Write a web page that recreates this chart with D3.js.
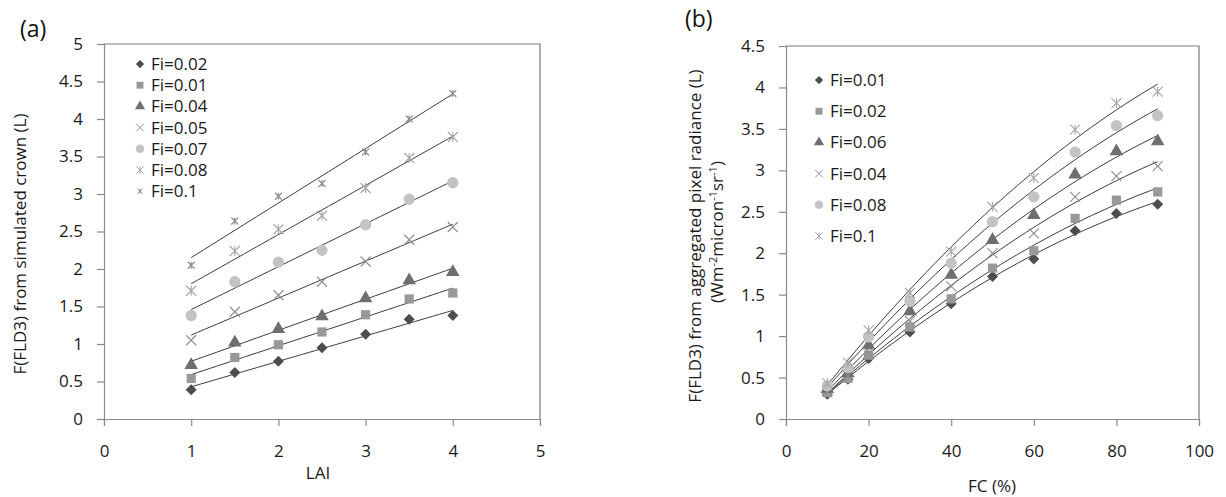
<!DOCTYPE html>
<html>
<head>
<meta charset="utf-8">
<script src="https://cdn.jsdelivr.net/npm/d3@7"></script>
<style>
  body { margin: 0; background: #fff; }
  svg { font-family: "Open Sans", sans-serif; }
</style>
</head>
<body>
<svg id="chart" width="1226" height="497"></svg>
<script>
// panel (a): F(FLD3) from simulated crown vs LAI
const laiValues = [1, 1.5, 2, 2.5, 3, 3.5, 4];
const seriesA = [
  { name: "Fi=0.02", marker: "diamond",  values: [0.39, 0.62, 0.77, 0.95, 1.13, 1.33, 1.38] },
  { name: "Fi=0.01", marker: "square",   values: [0.54, 0.82, 0.99, 1.16, 1.39, 1.60, 1.68] },
  { name: "Fi=0.04", marker: "triangle", values: [0.72, 1.02, 1.20, 1.37, 1.61, 1.85, 1.96] },
  { name: "Fi=0.05", marker: "cross",    values: [1.05, 1.43, 1.65, 1.83, 2.10, 2.39, 2.56] },
  { name: "Fi=0.07", marker: "circle",   values: [1.38, 1.83, 2.09, 2.25, 2.59, 2.93, 3.15] },
  { name: "Fi=0.08", marker: "star",     values: [1.71, 2.24, 2.53, 2.71, 3.08, 3.48, 3.76] },
  { name: "Fi=0.1",  marker: "starSmall", values: [2.05, 2.64, 2.97, 3.14, 3.56, 4.00, 4.34] }
];
const xTicksA = [0, 1, 2, 3, 4, 5];
const yTicksA = [0, 0.5, 1, 1.5, 2, 2.5, 3, 3.5, 4, 4.5, 5];

// panel (b): F(FLD3) from aggregated pixel radiance vs FC
const fcValues = [10, 15, 20, 30, 40, 50, 60, 70, 80, 90];
const seriesB = [
  { name: "Fi=0.01", marker: "diamond",  values: [0.30, 0.48, 0.73, 1.05, 1.39, 1.72, 1.93, 2.27, 2.48, 2.59] },
  { name: "Fi=0.02", marker: "square",   values: [0.32, 0.49, 0.77, 1.11, 1.45, 1.82, 2.03, 2.42, 2.64, 2.74] },
  { name: "Fi=0.06", marker: "triangle", values: [0.36, 0.55, 0.89, 1.30, 1.74, 2.16, 2.46, 2.95, 3.23, 3.35] },
  { name: "Fi=0.04", marker: "cross",    values: [0.33, 0.52, 0.80, 1.18, 1.60, 2.00, 2.24, 2.68, 2.93, 3.05] },
  { name: "Fi=0.08", marker: "circle",   values: [0.40, 0.62, 0.99, 1.42, 1.88, 2.38, 2.68, 3.22, 3.54, 3.66] },
  { name: "Fi=0.1",  marker: "star",     values: [0.43, 0.68, 1.07, 1.52, 2.02, 2.56, 2.91, 3.49, 3.81, 3.95] }
];
const xTicksB = [0, 20, 40, 60, 80, 100];
const yTicksB = [0, 0.5, 1, 1.5, 2, 2.5, 3, 3.5, 4, 4.5];

const markerStyle = {
  diamond:   { fill: "#4d4d4d", stroke: "none" },
  square:    { fill: "#999999", stroke: "none" },
  triangle:  { fill: "#6f6f6f", stroke: "none" },
  cross:     { fill: "none", stroke: "#8c8c8c" },
  circle:    { fill: "#c3c3c3", stroke: "none" },
  star:      { fill: "none", stroke: "#a6a6a6" },
  starSmall: { fill: "none", stroke: "#8c8c8c" }
};

function markerPath(type, k) {
  const s = k || 1;
  if (type === "diamond") {
    const r = 5.5 * s;
    return `M0,${-r}L${r},0L0,${r}L${-r},0Z`;
  }
  if (type === "square") return d3.symbol(d3.symbolSquare, 85 * s * s)();
  if (type === "triangle") return d3.symbol(d3.symbolTriangle, 80 * s * s)();
  if (type === "circle") return d3.symbol(d3.symbolCircle, 100 * s * s)();
  const r = (type === "starSmall" ? 3.5 : 5) * s;
  let p = `M${-r},${-r}L${r},${r}M${-r},${r}L${r},${-r}`;
  if (type !== "cross") p += `M0,${-r}L0,${r}`;
  return p;
}

function linearFit(xs, ys) {
  const mx = d3.mean(xs), my = d3.mean(ys);
  const num = d3.sum(xs, (x, i) => (x - mx) * (ys[i] - my));
  const den = d3.sum(xs, x => (x - mx) ** 2);
  const b = num / den;
  return x => my + b * (x - mx);
}

function quadFit(xs, ys) {
  // least squares y = a + b x + c x^2 via normal equations
  const S = k => d3.sum(xs, x => x ** k);
  const T = k => d3.sum(xs, (x, i) => ys[i] * x ** k);
  const m = [[S(0), S(1), S(2), T(0)], [S(1), S(2), S(3), T(1)], [S(2), S(3), S(4), T(2)]];
  for (let i = 0; i < 3; i++) {
    for (let j = i + 1; j < 3; j++) {
      const f = m[j][i] / m[i][i];
      for (let k = i; k < 4; k++) m[j][k] -= f * m[i][k];
    }
  }
  const c = [0, 0, 0];
  for (let i = 2; i >= 0; i--) {
    let v = m[i][3];
    for (let k = i + 1; k < 3; k++) v -= m[i][k] * c[k];
    c[i] = v / m[i][i];
  }
  return x => c[0] + c[1] * x + c[2] * x * x;
}

const svg = d3.select("#chart");

function panel(opt) {
  const { left, right, top, bottom } = opt;
  const x = d3.scaleLinear().domain(opt.xDomain).range([left, right]);
  const y = d3.scaleLinear().domain(opt.yDomain).range([bottom, top]);
  const g = svg.append("g");

  // plot frame (top/right)
  g.append("path")
    .attr("d", `M${left},${top}H${right}V${bottom}`)
    .attr("fill", "none").attr("stroke", "#7a7a7a").attr("stroke-width", 1.2);

  const xAxis = g.append("g")
    .attr("transform", `translate(0,${bottom})`)
    .call(d3.axisBottom(x).tickValues(opt.xTicks).tickSize(7).tickPadding(19).tickFormat(d3.format("")));
  const yAxis = g.append("g")
    .attr("transform", `translate(${left},0)`)
    .call(d3.axisLeft(y).tickValues(opt.yTicks).tickSize(7).tickPadding(14).tickFormat(d3.format("")));
  [xAxis, yAxis].forEach(a => {
    a.select(".domain").attr("stroke", "#8a8a8a").attr("stroke-width", 1.2);
    a.selectAll(".tick line").attr("stroke", "#8a8a8a").attr("stroke-width", 1.2);
    a.selectAll(".tick text").attr("fill", "#1a1a1a").style("font-size", "17px")
      .style("font-family", "'Open Sans', sans-serif");
  });

  // trend lines
  const xs = opt.xValues;
  opt.series.forEach(s => {
    const f = opt.fit(xs, s.values);
    const pts = d3.range(0, 41).map(i => {
      const xv = xs[0] + (xs[xs.length - 1] - xs[0]) * i / 40;
      return [xv, f(xv)];
    });
    g.append("path")
      .attr("d", d3.line().x(d => x(d[0])).y(d => y(d[1]))(pts))
      .attr("fill", "none").attr("stroke", "#3c3c3c").attr("stroke-width", 1);
  });

  // markers
  opt.series.forEach(s => {
    const st = markerStyle[s.marker];
    g.append("g").selectAll("path")
      .data(s.values)
      .join("path")
      .attr("transform", (d, i) => `translate(${x(xs[i])},${y(d)})`)
      .attr("d", markerPath(s.marker))
      .attr("fill", st.fill).attr("stroke", st.stroke).attr("stroke-width", 1.1);
  });

  // legend
  const lg = g.append("g");
  opt.series.forEach((s, i) => {
    const st = markerStyle[s.marker];
    const ly = opt.legendY + i * opt.legendStep;
    lg.append("path")
      .attr("transform", `translate(${opt.legendX},${ly})`)
      .attr("d", markerPath(s.marker, 0.75))
      .attr("fill", st.fill).attr("stroke", st.stroke).attr("stroke-width", 1);
    lg.append("text")
      .attr("x", opt.legendX + 11).attr("y", ly).attr("dy", "0.35em")
      .style("font-size", "17px").attr("fill", "#1a1a1a")
      .text(s.name);
  });

  // panel label
  g.append("text").attr("x", opt.labelX).attr("y", opt.labelY)
    .style("font-size", "23px").attr("fill", "#111").text(opt.label);

  // axis titles
  g.append("text").attr("x", opt.xTitleX).attr("y", opt.xTitleY)
    .attr("text-anchor", "middle").style("font-size", "17px").attr("fill", "#1a1a1a")
    .text(opt.xTitle);
  return { g, x, y };
}

const a = panel({
  left: 104, right: 540, top: 44, bottom: 419,
  xDomain: [0, 5], yDomain: [0, 5], xTicks: xTicksA, yTicks: yTicksA,
  xValues: laiValues, series: seriesA, fit: linearFit,
  legendX: 140, legendY: 64, legendStep: 21.2,
  label: "(a)", labelX: 20, labelY: 37,
  xTitle: "LAI", xTitleX: 318, xTitleY: 479
});
a.g.append("text")
  .attr("transform", "translate(26,244) rotate(-90)")
  .attr("text-anchor", "middle").style("font-size", "17px").attr("fill", "#1a1a1a")
  .text("F(FLD3) from simulated crown (L)");

const b = panel({
  left: 786, right: 1199, top: 46, bottom: 419,
  xDomain: [0, 100], yDomain: [0, 4.5], xTicks: xTicksB, yTicks: yTicksB,
  xValues: fcValues, series: seriesB, fit: quadFit,
  legendX: 819, legendY: 80, legendStep: 31.2,
  label: "(b)", labelX: 685, labelY: 27,
  xTitle: "FC (%)", xTitleX: 992, xTitleY: 492
});
b.g.append("text")
  .attr("transform", "translate(701,236) rotate(-90)")
  .attr("text-anchor", "middle").style("font-size", "17px").attr("fill", "#1a1a1a")
  .text("F(FLD3) from aggregated pixel radiance (L)");
const t2 = b.g.append("text")
  .attr("transform", "translate(723,232) rotate(-90)")
  .attr("text-anchor", "middle").style("font-size", "17px").attr("fill", "#1a1a1a");
t2.append("tspan").text("(Wm");
t2.append("tspan").attr("dy", "-6").style("font-size", "11px").text("-2");
t2.append("tspan").attr("dy", "6").text("micron");
t2.append("tspan").attr("dy", "-6").style("font-size", "11px").text("-1");
t2.append("tspan").attr("dy", "6").text("sr");
t2.append("tspan").attr("dy", "-6").style("font-size", "11px").text("-1");
t2.append("tspan").attr("dy", "6").text(")");
</script>
</body>
</html>
